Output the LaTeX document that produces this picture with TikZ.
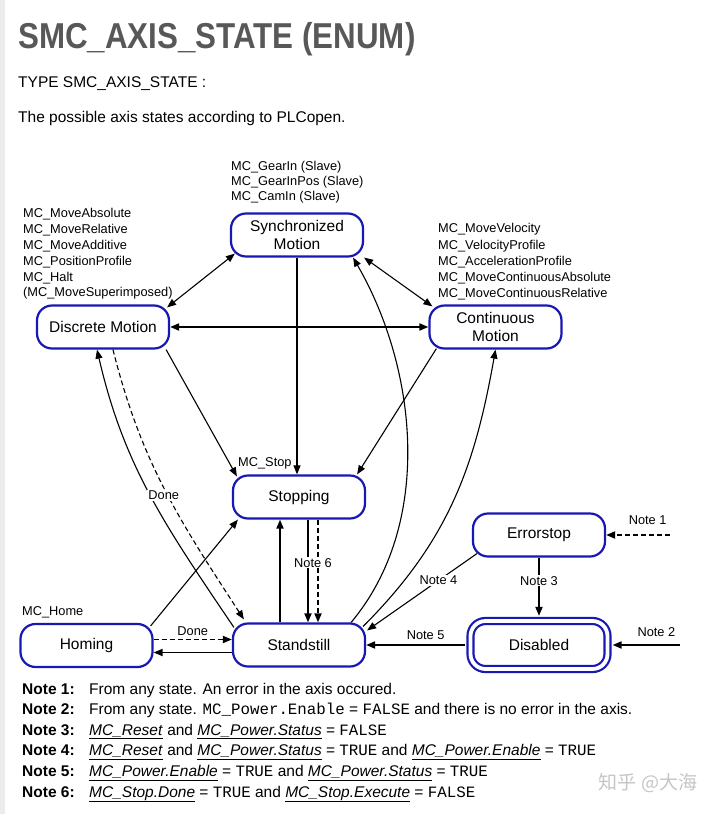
\documentclass[tikz,border=0pt]{standalone}
\usepackage{fontspec}
\setmainfont{Liberation Sans}
\setmonofont[Scale=1.02]{Liberation Mono}
\newfontfamily\titlefont[FakeStretch=0.87]{Liberation Sans}
\newfontfamily\cjkfont{Noto Sans CJK SC}
\usetikzlibrary{arrows.meta}

\definecolor{stateblue}{RGB}{24,24,178}
\definecolor{titlegray}{RGB}{88,88,88}
\definecolor{stripgray}{RGB}{236,236,236}

\newcommand{\bodyfont}{\fontsize{15.5}{18}\selectfont}
\newcommand{\varname}[1]{\underline{\textit{#1}}}

\tikzset{
  state/.style={draw=stateblue, line width=2.2pt, rounded corners=15pt,
    minimum width=132pt, minimum height=43pt, inner sep=0pt, align=center,
    font=\fontsize{15.5}{18}\selectfont},
  trans/.style={line width=1.1pt, -{Triangle[length=9pt,width=7pt]}},
  heavy/.style={trans, line width=1.8pt},
  twoway/.style={{Triangle[length=9pt,width=7pt]}-{Triangle[length=9pt,width=7pt]}},
  dashline/.style={dash pattern=on 5pt off 3pt},
  lbl/.style={font=\fontsize{12.8}{15.8}\selectfont, inner sep=1pt},
  onlbl/.style={lbl, fill=white},
  cmdlist/.style={lbl, anchor=north west, inner sep=0pt, align=left}
}

\begin{document}
\begin{tikzpicture}[x=1pt,y=1pt]
  \useasboundingbox (0,0) rectangle (720,-814);
  \fill[white] (0,0) rectangle (720,-814);
  \fill[stripgray] (0,0) rectangle (5,-814);

  % Heading
  \node[anchor=base west, inner sep=0pt, text=titlegray,
    font=\titlefont\bfseries\fontsize{36}{42}\selectfont] (title) at (18,-48.5) {SMC\_AXIS\_STATE (ENUM)};
  \node[anchor=base west, inner sep=0pt, font=\bodyfont] (typeline) at (18,-87.5) {TYPE SMC\_AXIS\_STATE :};
  \node[anchor=base west, inner sep=0pt, font=\bodyfont] (intro) at (18,-122.5) {The possible axis states according to PLCopen.};

  % States
  \node[state] (sync) at (297,-235) {Synchronized\\Motion};
  \node[state] (disc) at (103,-327) {Discrete Motion};
  \node[state] (cont) at (495.5,-327) {Continuous\\Motion};
  \node[state] (stop) at (299,-497) {Stopping};
  \node[state] (err) at (539,-535) {Errorstop};
  \node[state] (home) at (86.5,-645.5) {Homing};
  \node[state] (stand) at (299,-645) {Standstill};
  \node[state, minimum width=137pt, minimum height=48pt, double=white, double distance=3.8pt] (dis) at (539,-645) {Disabled};

  % Function block lists
  \node[cmdlist] (synccmds) at (231,-161) {MC\_GearIn (Slave)\\[-0.8pt]MC\_GearInPos (Slave)\\[-0.8pt]MC\_CamIn (Slave)};
  \node[cmdlist] (disccmds) at (23,-208.5) {MC\_MoveAbsolute\\MC\_MoveRelative\\MC\_MoveAdditive\\MC\_PositionProfile\\MC\_Halt\\(MC\_MoveSuperimposed)};
  \node[cmdlist] (contcmds) at (438,-223.5) {MC\_MoveVelocity\\[0.4pt]MC\_VelocityProfile\\[0.4pt]MC\_AccelerationProfile\\[0.4pt]MC\_MoveContinuousAbsolute\\[0.4pt]MC\_MoveContinuousRelative};
  \node[lbl, anchor=base west, inner sep=0pt] (stopcmd) at (238,-466.5) {MC\_Stop};
  \node[lbl, anchor=base west, inner sep=0pt] (homecmd) at (22,-615.5) {MC\_Home};

  % Transitions
  \draw[trans, twoway] ([shift={(-3,-3)}]disc.north east) -- ([shift={(5,4)}]sync.south west);
  \draw[trans, twoway] (sync.south east) -- ([shift={(4,-2)}]cont.north west);
  \draw[heavy, twoway] (disc) -- (cont);
  \draw[trans] (sync) -- (sync |- stop.north);
  \draw[trans] ([xshift=-4]disc.south east) -- ([shift={(5,-2)}]stop.north west);
  \draw[trans] ([shift={(8,1)}]cont.south west) -- ([xshift=-9]stop.north east);
  \draw[trans] ([xshift=-15]stand.north east) to[out=50, in=-60, looseness=0.9] ([xshift=-11]sync.south east);
  \draw[trans] ([shift={(-3,-4)}]stand.north east) to[out=45, in=-100] (cont.south);
  \draw[trans] ([shift={(2,-5)}]stand.north west) to[out=124, in=-77] ([xshift=-6]disc.south);
  \draw[trans, dashline] ([xshift=10]disc.south) to[out=-76, in=123]
    node[onlbl, pos=0.52, xshift=-4pt] {Done} ([shift={(12,3)}]stand.north west);
  \draw[trans] ([shift={(-3,-3)}]home.north east) -- ([xshift=6]stop.south west);
  \draw[heavy] ([xshift=-19]stand.north) -- ([xshift=-19]stop.south);
  \draw[heavy, dashline] ([xshift=19]stop.south) -- ([xshift=19]stand.north);
  \draw[heavy] ([xshift=9]stop.south) -- node[onlbl, pos=0.42, xshift=5pt] {Note 6} ([xshift=9]stand.north);
  \draw[heavy, dashline] ([yshift=6]home.east) -- node[lbl, above=2pt] {Done} ([yshift=6]home.east -| stand.west);
  \draw[heavy] ([yshift=-7]home.east -| stand.west) -- ([yshift=-7]home.east);

  % Error handling
  \coordinate (note1in) at (670,-535);
  \coordinate (note2in) at (680,-645);
  \draw[heavy, dashline] (note1in) -- node[lbl, above=8pt, pos=0.35] {Note 1} (err.east);
  \draw[heavy] (note2in) -- node[lbl, above=6pt, pos=0.35] {Note 2} ([xshift=4]dis.east);
  \draw[heavy] (err) -- node[onlbl, pos=0.4] {Note 3} ([yshift=4]dis.north);
  \draw[trans] ([shift={(5,4)}]err.south west) -- node[onlbl, pos=0.35] {Note 4} ([shift={(1,-8)}]stand.north east);
  \draw[heavy] ([xshift=-4]dis.west) -- node[lbl, above=3pt, pos=0.4] {Note 5} (stand.east);

  % Notes
  \foreach \n/\txt [count=\k from 0] in {
      1/{From any state. An error in the axis occured.},
      2/{From any state. \texttt{MC\_Power.Enable} = \texttt{FALSE} and there is no error in the axis.},
      3/{\varname{MC\_Reset} and \varname{MC\_Power.Status} = \texttt{FALSE}},
      4/{\varname{MC\_Reset} and \varname{MC\_Power.Status} = \texttt{TRUE} and \varname{MC\_Power.Enable} = \texttt{TRUE}},
      5/{\varname{MC\_Power.Enable} = \texttt{TRUE} and \varname{MC\_Power.Status} = \texttt{TRUE}},
      6/{\varname{MC\_Stop.Done} = \texttt{TRUE} and \varname{MC\_Stop.Execute} = \texttt{FALSE}}} {
    \node[anchor=base west, inner sep=0pt, font=\bodyfont\bfseries] (notekey\n) at (22,{-694-20.6*\k}) {Note \n:};
    \node[anchor=base west, inner sep=0pt, font=\bodyfont] (notetext\n) at (89,{-694-20.6*\k}) {\txt};
  }

  % Watermark
  \node[text=gray!45, font=\cjkfont\fontsize{19}{22}\selectfont] (mark) at (648,-783) {知乎 @大海};
\end{tikzpicture}
\end{document}
